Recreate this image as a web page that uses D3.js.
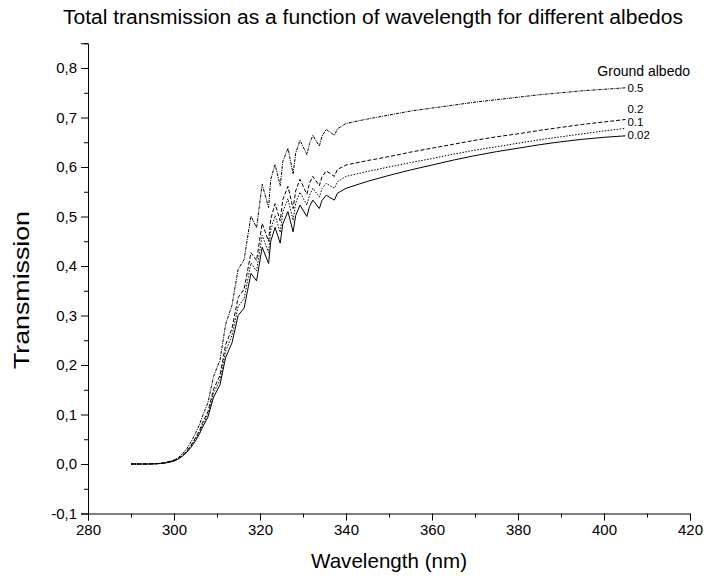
<!DOCTYPE html>
<meta charset="utf-8">
<body style="margin:0;background:#fff">
<script src="https://d3js.org/d3.v7.min.js"></script>
<div id="chart"></div>
<script>
// wavelength grid (nm)
var wavelength = [290, 292, 294, 296, 298, 300, 301, 302, 303, 304, 305, 306, 306.5, 307.9, 309.2, 310.7, 312.0, 313.5, 314.9, 316.3, 317.9, 319.2, 320.5, 322.0, 322.5, 323.5, 324.7, 325.3, 326.5, 327.7, 328.3, 329.3, 330.9, 331.5, 332.3, 333.8, 334.4, 335.4, 337.3, 338, 340,
  345, 350, 355, 360, 365, 370, 375, 380, 385, 390, 395, 400, 405];

// transmission for each ground albedo
var albedo002 = [0, 0, 0, 0.0005, 0.002, 0.006, 0.010, 0.016, 0.024, 0.034, 0.047, 0.062, 0.072, 0.095, 0.135, 0.160, 0.215, 0.245, 0.300, 0.315, 0.385, 0.370, 0.438, 0.405, 0.450, 0.478, 0.446, 0.485, 0.510, 0.469, 0.502, 0.523, 0.500, 0.520, 0.533, 0.516, 0.532, 0.543, 0.533, 0.547, 0.557,
  0.571, 0.583, 0.594, 0.604, 0.614, 0.623, 0.631, 0.638, 0.645, 0.651, 0.656, 0.660, 0.663];
var albedo01 = [0, 0, 0, 0.0005, 0.002, 0.006, 0.011, 0.017, 0.025, 0.036, 0.050, 0.066, 0.076, 0.101, 0.143, 0.170, 0.228, 0.260, 0.318, 0.334, 0.406, 0.390, 0.462, 0.427, 0.473, 0.502, 0.468, 0.509, 0.536, 0.492, 0.527, 0.549, 0.523, 0.543, 0.557, 0.539, 0.556, 0.567, 0.557, 0.570, 0.581,
  0.591, 0.600, 0.609, 0.617, 0.626, 0.634, 0.641, 0.648, 0.655, 0.661, 0.667, 0.673, 0.678];
var albedo02 = [0, 0, 0, 0.0006, 0.002, 0.007, 0.011, 0.018, 0.027, 0.038, 0.053, 0.069, 0.081, 0.106, 0.151, 0.179, 0.241, 0.274, 0.336, 0.353, 0.427, 0.411, 0.486, 0.450, 0.495, 0.526, 0.491, 0.534, 0.561, 0.516, 0.552, 0.575, 0.545, 0.567, 0.581, 0.562, 0.580, 0.592, 0.581, 0.595, 0.604,
  0.613, 0.621, 0.630, 0.638, 0.646, 0.654, 0.661, 0.667, 0.674, 0.680, 0.686, 0.691, 0.696];
var albedo05 = [0, 0, 0, 0.0007, 0.003, 0.008, 0.013, 0.021, 0.031, 0.045, 0.062, 0.081, 0.094, 0.124, 0.177, 0.210, 0.282, 0.321, 0.393, 0.413, 0.501, 0.477, 0.565, 0.518, 0.575, 0.605, 0.562, 0.611, 0.638, 0.586, 0.628, 0.654, 0.625, 0.647, 0.664, 0.642, 0.662, 0.676, 0.664, 0.677, 0.688,
  0.697, 0.705, 0.713, 0.719, 0.725, 0.731, 0.736, 0.741, 0.746, 0.750, 0.754, 0.757, 0.760];

var xTicks = [280, 300, 320, 340, 360, 380, 400, 420];
var yTicks = [-0.1, 0, 0.1, 0.2, 0.3, 0.4, 0.5, 0.6, 0.7, 0.8];

var width = 704, height = 577;
var margin = {top: 43.25, right: 14, bottom: 63.5, left: 88};

var svg = d3.select("#chart").append("svg")
  .attr("width", width)
  .attr("height", height)
  .style("font-family", "'Liberation Sans', Arial, sans-serif");

var x = d3.scaleLinear().domain([280, 420]).range([margin.left, width - margin.right]);
var y = d3.scaleLinear().domain([-0.1, 0.85]).range([height - margin.bottom, margin.top]);

// x axis
svg.append("g")
  .attr("transform", `translate(0,${y(-0.1)})`)
  .call(d3.axisBottom(x).tickValues(xTicks).tickSize(7).tickPadding(4).tickFormat(d3.format("d")))
  .call(g => g.selectAll("text").style("font-size", "15px").attr("fill", "#000"));
svg.append("g")
  .attr("transform", `translate(0,${y(-0.1)})`)
  .call(d3.axisBottom(x).tickValues(d3.range(290, 420, 20)).tickSize(4).tickFormat(""))
  .call(g => g.select(".domain").remove());

// y axis
svg.append("g")
  .attr("transform", `translate(${x(280)},0)`)
  .call(d3.axisLeft(y).tickValues(yTicks).tickSize(7).tickPadding(4)
    .tickFormat(d => d3.format(".1f")(d).replace("−", "-").replace(".", ",")))
  .call(g => g.selectAll("text").style("font-size", "15px").attr("fill", "#000"));
svg.append("g")
  .attr("transform", `translate(${x(280)},0)`)
  .call(d3.axisLeft(y).tickValues([-0.05, 0.05, 0.15, 0.25, 0.35, 0.45, 0.55, 0.65, 0.75, 0.85]).tickSize(4).tickFormat(""))
  .call(g => g.select(".domain").remove());

svg.selectAll(".domain, .tick line").attr("stroke", "#000");

// curves
var line = d3.line()
  .x((d, i) => x(wavelength[i]))
  .y(d => y(d));

var curves = [
  {name: "0.5", values: albedo05, dash: "3,1,1,1"},
  {name: "0.2", values: albedo02, dash: "4,2"},
  {name: "0.1", values: albedo01, dash: "1.5,1.5"},
  {name: "0.02", values: albedo002, dash: null}
];

svg.selectAll(".curve")
  .data(curves)
  .join("path")
  .attr("class", "curve")
  .attr("d", d => line(d.values))
  .attr("fill", "none")
  .attr("stroke", "#000")
  .attr("stroke-width", 1)
  .attr("stroke-dasharray", d => d.dash);

// curve labels
var labelY = {"0.5": 0.76, "0.2": 0.718, "0.1": 0.691, "0.02": 0.664};
svg.selectAll(".lab")
  .data(curves)
  .join("text")
  .attr("class", "lab")
  .attr("x", x(405) + 2)
  .attr("y", d => y(labelY[d.name]))
  .attr("dy", "0.35em")
  .style("font-size", "11.5px")
  .text(d => d.name);

svg.append("text")
  .attr("x", 690)
  .attr("y", 76)
  .attr("text-anchor", "end")
  .style("font-size", "14px")
  .text("Ground albedo");

// titles
svg.append("text")
  .attr("x", 373)
  .attr("y", 24)
  .attr("text-anchor", "middle")
  .attr("textLength", 620)
  .attr("lengthAdjust", "spacingAndGlyphs")
  .style("font-size", "20px")
  .text("Total transmission as a function of wavelength for different albedos");

svg.append("text")
  .attr("x", 389)
  .attr("y", 568)
  .attr("text-anchor", "middle")
  .attr("textLength", 156)
  .attr("lengthAdjust", "spacingAndGlyphs")
  .style("font-size", "21px")
  .text("Wavelength (nm)");

svg.append("text")
  .attr("transform", "translate(29,290) rotate(-90)")
  .attr("text-anchor", "middle")
  .attr("textLength", 158)
  .attr("lengthAdjust", "spacingAndGlyphs")
  .style("font-size", "22px")
  .text("Transmission");
</script>
</body>
